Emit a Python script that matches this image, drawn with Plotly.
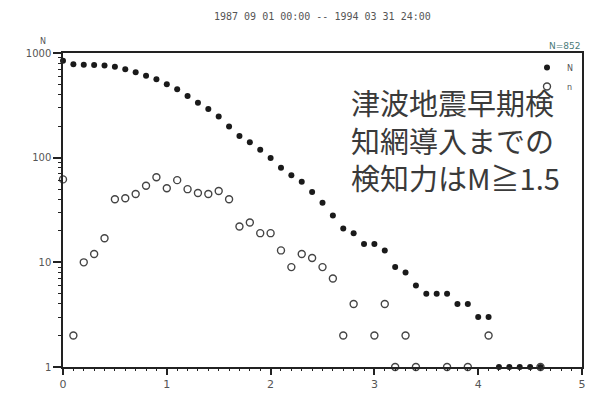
import plotly.graph_objects as go

# magnitude bins
mag = [round(0.1 * i, 1) for i in range(47)]  # 0.0 .. 4.6

# cumulative number N (filled dots)
N_vals = [844, 780, 773, 770, 760, 740, 699, 654, 607, 560,
          502, 450, 388, 335, 292, 247, 198, 161, 140, 119,
          99, 80, 68, 59, 47, 37, 28, 21, 19, 15,
          15, 13, 9, 8, 6, 5, 5, 5, 4, 4,
          3, 3, 1, 1, 1, 1, 1]

# non-cumulative number n (open circles), None = zero
n_vals = [62, 2, 10, 12, 17, 40, 41, 45, 54, 65,
          51, 61, 50, 46, 45, 48, 40, 22, 24, 19,
          19, 13, 9, 12, 11, 9, 7, 2, 4, None,
          2, 4, 1, 2, 1, None, None, 1, None, 1,
          None, 2, None, None, None, None, 1]

x_tickvals = [0, 1, 2, 3, 4, 5]
y_tickvals = [1, 10, 100, 1000]
y_ticktext = ["1", "10", "100", "1000"]
y_minor = [k * 10 ** d for d in range(3) for k in range(2, 10)]
x_minor = [round(0.1 * i, 1) for i in range(51)]

title_text = "1987 09 01 00:00 -- 1994 03 31 24:00"
count_text = "N=852"
note_text = "津波地震早期検<br>知網導入までの<br>検知力はM≧1.5"

axis_col = "#222222"
lab_col = "#555555"

fig = go.Figure()
# open circles drawn on the overlay axes (same ranges) which carry the minor ticks
fig.add_trace(go.Scatter(
    x=mag, y=n_vals, mode="markers", name="n", xaxis="x2", yaxis="y2",
    marker=dict(symbol="circle-open", size=7, color="#444444", line=dict(width=1.4)),
    cliponaxis=False,
))
fig.add_trace(go.Scatter(
    x=mag, y=N_vals, mode="markers", name="N",
    marker=dict(symbol="circle", size=6, color="#1a1a1a"),
    cliponaxis=False,
))

# page body has an 8px margin, so the figure is 8px smaller than the window
W, H = 587, 385
fig.update_layout(
    width=W, height=H,
    margin=dict(l=55, r=13, t=45, b=26, autoexpand=False),
    paper_bgcolor="white", plot_bgcolor="white",
    font=dict(family="DejaVu Sans", color=lab_col, size=10),
    showlegend=True,
    legend=dict(x=1.0 - 4 / 519, y=1.0, xanchor="right", yanchor="top",
                bgcolor="rgba(0,0,0,0)", font=dict(size=8, color=lab_col),
                traceorder="reversed", itemwidth=30, tracegroupgap=0),
    xaxis=dict(range=[0, 5], tickvals=x_tickvals, ticks="outside", ticklen=6, tickwidth=1.5,
               tickcolor=axis_col, showgrid=False, zeroline=False, automargin=False,
               showline=True, linecolor=axis_col, linewidth=1.5, mirror=True,
               tickfont=dict(size=11, color=lab_col)),
    xaxis2=dict(overlaying="x", side="bottom", anchor="y2", range=[0, 5], tickvals=x_minor,
                showticklabels=False, ticks="outside", ticklen=3, tickwidth=1.2,
                tickcolor=axis_col, showgrid=False, zeroline=False, showline=False,
                automargin=False),
    yaxis=dict(type="log", range=[0, 3], tickvals=y_tickvals, ticktext=y_ticktext,
               ticks="outside", ticklen=8, tickwidth=1.5, tickcolor=axis_col, showgrid=False,
               automargin=False, zeroline=False, showline=True, linecolor=axis_col,
               linewidth=1.5, mirror=True, tickfont=dict(size=10, color=lab_col)),
    yaxis2=dict(overlaying="y", side="left", anchor="x2", type="log", range=[0, 3],
                tickvals=y_minor, showticklabels=False, ticks="outside", ticklen=4,
                tickwidth=1.2, tickcolor=axis_col, showgrid=False, zeroline=False,
                showline=False, automargin=False),
)

fig.add_annotation(text=title_text, xref="paper", yref="paper", x=0.5, y=1.0,
                   yshift=37, showarrow=False,
                   font=dict(family="DejaVu Sans Mono", size=10, color=lab_col),
                   xanchor="center", yanchor="middle")
fig.add_annotation(text=count_text, xref="paper", yref="paper", x=1.0, y=1.0,
                   showarrow=False, font=dict(size=9, color="#4a7a78"),
                   xanchor="right", yanchor="bottom")
fig.add_annotation(text="N", xref="paper", yref="paper", x=0.0, y=1.0, xshift=-20, yshift=5,
                   showarrow=False, font=dict(size=8, color=lab_col),
                   xanchor="center", yanchor="bottom")
fig.add_annotation(text=note_text, xref="paper", yref="paper", x=0.551, y=0.723,
                   showarrow=False, align="left", xanchor="left", yanchor="middle",
                   font=dict(family="Noto Sans CJK JP", size=29, color="#3a3a3a"))

fig.write_html("out.html")
